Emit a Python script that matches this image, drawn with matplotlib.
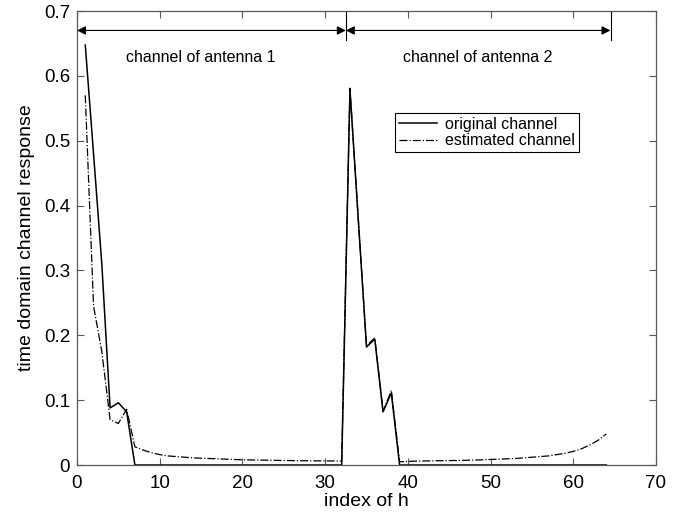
import matplotlib
matplotlib.use("Agg")
import matplotlib.pyplot as plt
from matplotlib.ticker import FixedLocator

plt.rcParams["font.family"] = ["Liberation Sans", "DejaVu Sans"]

# tap index of h (1..64: 32 taps per antenna)
index_h = list(range(1, 65))

original_channel = [
    0.6475, 0.48, 0.31, 0.088, 0.096, 0.082, 0, 0, 0, 0,
    0, 0, 0, 0, 0, 0, 0, 0, 0, 0,
    0, 0, 0, 0, 0, 0, 0, 0, 0, 0,
    0, 0, 0.579, 0.38, 0.182, 0.194, 0.082, 0.111, 0, 0,
    0, 0, 0, 0, 0, 0, 0, 0, 0, 0,
    0, 0, 0, 0, 0, 0, 0, 0, 0, 0,
    0, 0, 0, 0,
]

estimated_channel = [
    0.570, 0.245, 0.175, 0.070, 0.064, 0.086, 0.028, 0.023, 0.019, 0.016,
    0.014, 0.013, 0.012, 0.011, 0.0105, 0.010, 0.0095, 0.009, 0.0085, 0.008,
    0.0078, 0.0076, 0.0074, 0.0072, 0.007, 0.0068, 0.0066, 0.0065, 0.0064, 0.0063,
    0.0062, 0.0062, 0.581, 0.38, 0.184, 0.196, 0.083, 0.115, 0.005, 0.0055,
    0.006, 0.0062, 0.0064, 0.0066, 0.0068, 0.007, 0.0073, 0.0076, 0.008, 0.0085,
    0.009, 0.0095, 0.010, 0.011, 0.012, 0.013, 0.014, 0.016, 0.018, 0.021,
    0.025, 0.031, 0.038, 0.048,
]

antenna_labels = ["channel of antenna 1", "channel of antenna 2"]
antenna_spans = [(0, 32.5), (32.5, 64.5)]
label_centers = [15, 48.5]

x_ticks = [0, 10, 20, 30, 40, 50, 60, 70]
y_ticks = [0, 0.1, 0.2, 0.3, 0.4, 0.5, 0.6, 0.7]
y_tick_labels = ["0", "0.1", "0.2", "0.3", "0.4", "0.5", "0.6", "0.7"]

fig = plt.figure(figsize=(6.95, 5.14), dpi=100)
ax = fig.add_axes([77 / 695, 49 / 514, 579 / 695, 454 / 514])

ax.plot(index_h, original_channel, "-", color="black", lw=1.1, label="original channel")
ax.plot(index_h, estimated_channel, "-.", color="black", lw=0.9, label="estimated channel")

# span arrows marking each antenna's block of taps
arrow_y = 0.67
for (x0, x1), label, xc in zip(antenna_spans, antenna_labels, label_centers):
    ax.annotate(
        "", xy=(x1, arrow_y), xytext=(x0, arrow_y),
        arrowprops=dict(arrowstyle="<|-|>", color="black", lw=0.8,
                        mutation_scale=13, shrinkA=0, shrinkB=0),
    )
    ax.text(xc, 0.628, label, ha="center", va="center", fontsize=11.5)
for _, x1 in antenna_spans:
    ax.plot([x1, x1], [0.655, 0.7], color="black", lw=0.8)

ax.set_xlim(0, 70)
ax.set_ylim(0, 0.7)
ax.xaxis.set_major_locator(FixedLocator(x_ticks))
ax.set_yticks(y_ticks)
ax.set_yticklabels(y_tick_labels)
ax.tick_params(direction="in", top=True, right=True, length=5, width=0.8,
               labelsize=13.5, color="0.35", pad=5)
ax.tick_params(axis="x", pad=7)
for spine in ax.spines.values():
    spine.set_color("0.35")
    spine.set_linewidth(0.9)

ax.set_xlabel("index of h", fontsize=14, labelpad=1)
ax.set_ylabel("time domain channel response", fontsize=14, labelpad=6)

leg = ax.legend(loc="upper left", bbox_to_anchor=(0.549, 0.776), fontsize=11.5,
                frameon=True, fancybox=False, edgecolor="black", framealpha=1,
                handlelength=2.4, handletextpad=0.5, borderpad=0.25,
                labelspacing=0.1, borderaxespad=0)
leg.get_frame().set_linewidth(0.8)

fig.savefig("out.png", dpi=100)
